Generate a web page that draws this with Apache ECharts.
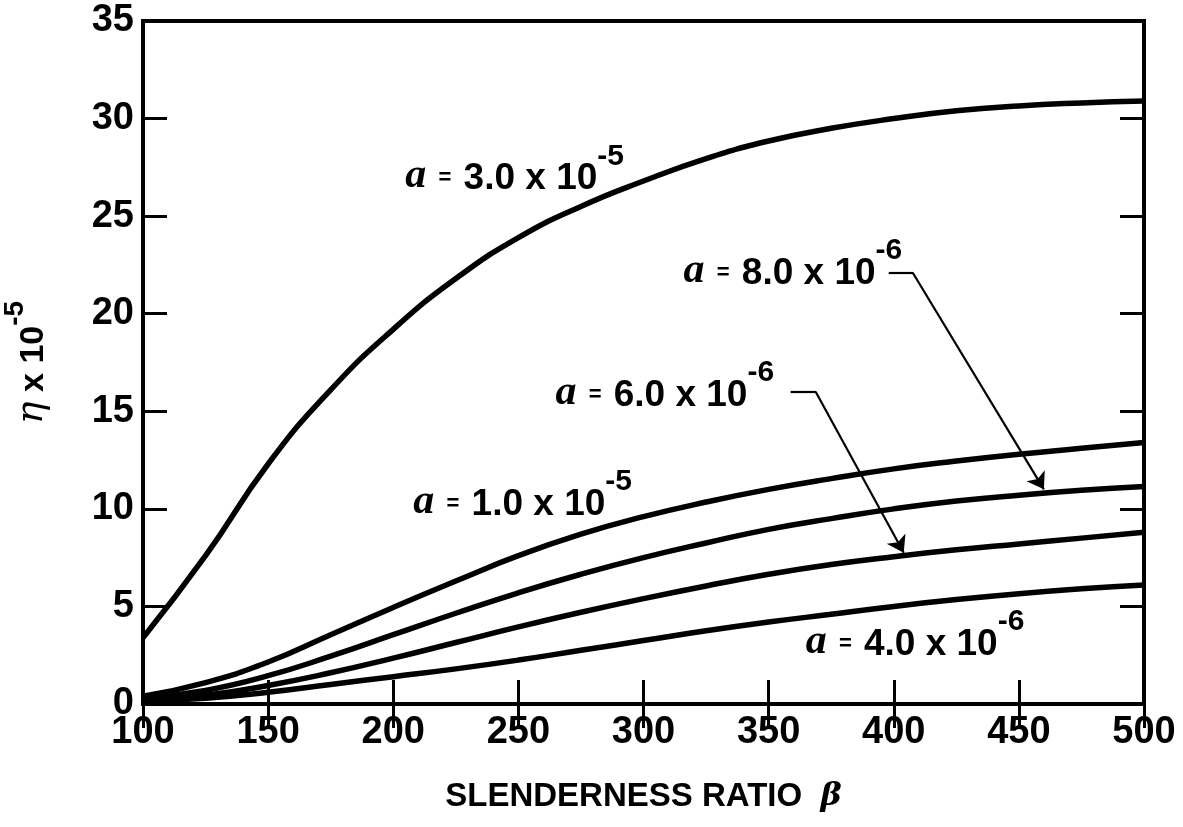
<!DOCTYPE html>
<html>
<head>
<meta charset="utf-8">
<script src="https://cdn.jsdelivr.net/npm/echarts@6/dist/echarts.min.js"></script>
<style>
html,body{margin:0;padding:0;background:#fff;}
#chart{width:1183px;height:827px;}
</style>
</head>
<body>
<div id="chart"></div>
<script>
// Slenderness ratio beta (x values)
const beta = [100,125,150,175,200,225,250,275,300,325,350,375,400,425,450,475,500];
// eta x 10^-5 for each a
const eta_a3e5 = [3.4,7.6,12.3,16.1,19.2,21.8,23.9,25.5,26.8,27.95,28.85,29.5,30.0,30.4,30.65,30.8,30.9];
const eta_a1e5 = [0.4,1.1,2.15,3.55,4.95,6.3,7.6,8.7,9.6,10.35,11.0,11.55,12.05,12.45,12.8,13.1,13.4];
const eta_a8e6 = [0.3,0.7,1.45,2.45,3.55,4.65,5.7,6.65,7.5,8.25,8.95,9.5,10.0,10.4,10.7,10.95,11.15];
const eta_a6e6 = [0.2,0.45,0.95,1.6,2.35,3.15,3.95,4.7,5.4,6.05,6.65,7.15,7.55,7.9,8.2,8.5,8.8];
const eta_a4e6 = [0.15,0.3,0.6,1.0,1.4,1.8,2.25,2.75,3.25,3.75,4.2,4.6,5.0,5.35,5.65,5.9,6.1];
const curveNames = ['3.0','1.0','8.0','6.0','4.0'];
const curveExps = ['-5','-5','-6','-6','-6'];
const xTicks = [100,150,200,250,300,350,400,450,500];
const yTicks = [0,5,10,15,20,25,30,35];

const SANS = '"Liberation Sans", Arial, sans-serif';
const SERIF = '"Liberation Serif", "DejaVu Serif", serif';
const pairs = ys => beta.map((b,i)=>[b, ys[i]]);
const allCurves = [eta_a3e5, eta_a1e5, eta_a8e6, eta_a6e6, eta_a4e6];

const LH = 56;
const richLabel = {
  a: {fontFamily: SERIF, fontStyle:'italic', fontWeight:'bold', fontSize:42, color:'#000', lineHeight:LH, verticalAlign:'bottom'},
  q: {fontFamily: SANS, fontWeight:'bold', fontSize:22, color:'#000', lineHeight:LH, verticalAlign:'bottom', padding:[0,0,8,0]},
  t: {fontFamily: SANS, fontWeight:'bold', fontSize:37, color:'#000', lineHeight:LH, verticalAlign:'bottom'},
  s: {fontFamily: SANS, fontWeight:'bold', fontSize:30, color:'#000', lineHeight:LH, verticalAlign:'top'}
};
function labelText(i){
  return '{a|a}{q|  =  }{t|' + curveNames[i] + ' x 10}{s|' + curveExps[i] + '}';
}
// label anchor positions (data coords): left edge, vertical centre
const labelAnchors = [[204.8,27.4],[208,10.7],[316,22.55],[264.8,16.3],[364.8,3.54]];

const series = allCurves.map((ys,i)=>({
  type:'line', data: pairs(ys), smooth:true, showSymbol:false,
  lineStyle:{color:'#000', width:5.5}, z:3, animation:false
}));
series.push({
  type:'scatter', symbolSize:0, animation:false, z:5,
  itemStyle:{opacity:1},
  data: labelAnchors.map(p=>p),
  label:{show:true, position:'right', distance:0, color:'#000', opacity:1,
    formatter: p => labelText(p.dataIndex), rich: richLabel}
});
// leader lines (horizontal stubs)
series.push({
  type:'lines', coordinateSystem:'cartesian2d', animation:false, z:4,
  symbol:'none',
  lineStyle:{color:'#000', width:2.2, opacity:1},
  data:[
    {coords:[[398,22.1],[407.8,22.1]]},
    {coords:[[358.8,16.0],[369,16.0]]}
  ]
});
// arrows
series.push({
  type:'lines', coordinateSystem:'cartesian2d', animation:false, z:4,
  symbol:['none','arrow'], symbolSize:16,
  lineStyle:{color:'#000', width:2.2, opacity:1},
  data:[
    {coords:[[407.6,22.1],[460,11.0]]},
    {coords:[[368.8,16.0],[404,7.75]]}
  ]
});

const chart = echarts.init(document.getElementById('chart'), null, {renderer:'canvas'});
const tickStyle = {show:true, inside:true, length:24, lineStyle:{color:'#000', width:3}};
chart.setOption({
  backgroundColor:'#fff',
  animation:false,
  grid:{left:143, top:21, right:39, bottom:123, containLabel:false, outerBoundsMode:'none',
    show:true, borderColor:'#000', borderWidth:4, backgroundColor:'transparent'},
  xAxis:[{
    type:'value', min:100, max:500, interval:50,
    axisLine:{show:false}, splitLine:{show:false}, axisTick:tickStyle,
    axisLabel:{fontFamily:SANS, fontWeight:'bold', fontSize:38, color:'#000', margin:10,
      formatter: v => xTicks.includes(v) ? String(v) : ''},
    name:'SLENDERNESS RATIO  {b|β}', nameLocation:'middle', nameGap:76,
    nameTextStyle:{fontFamily:SANS, fontWeight:'bold', fontSize:33, color:'#000',
      rich:{b:{fontFamily:'"DejaVu Serif", serif', fontStyle:'italic', fontSize:32, color:'#000'}}}
  },{
    type:'value', position:'top', min:100, max:500, interval:50,
    axisLine:{show:false}, splitLine:{show:false}, axisTick:tickStyle, axisLabel:{show:false}
  }],
  yAxis:[{
    type:'value', min:0, max:35, interval:5,
    axisLine:{show:false}, splitLine:{show:false}, axisTick:tickStyle,
    axisLabel:{fontFamily:SANS, fontWeight:'bold', fontSize:38, color:'#000', margin:9,
      formatter: v => yTicks.includes(v) ? String(v) : ''},
    name:'{e|η}{t| x 10}{s|-5}', nameLocation:'middle', nameGap:92, nameRotate:90,
    nameTextStyle:{rich:{
      e:{fontFamily:'"DejaVu Serif", serif', fontStyle:'italic', fontSize:38, color:'#000', lineHeight:50, verticalAlign:'bottom'},
      t:{fontFamily:SANS, fontWeight:'bold', fontSize:34, color:'#000', lineHeight:50, verticalAlign:'bottom'},
      s:{fontFamily:SANS, fontWeight:'bold', fontSize:28, color:'#000', lineHeight:50, verticalAlign:'top'}
    }}
  },{
    type:'value', position:'right', min:0, max:35, interval:5,
    axisLine:{show:false}, splitLine:{show:false}, axisTick:tickStyle, axisLabel:{show:false}
  }],
  series: series
});
</script>
</body>
</html>
